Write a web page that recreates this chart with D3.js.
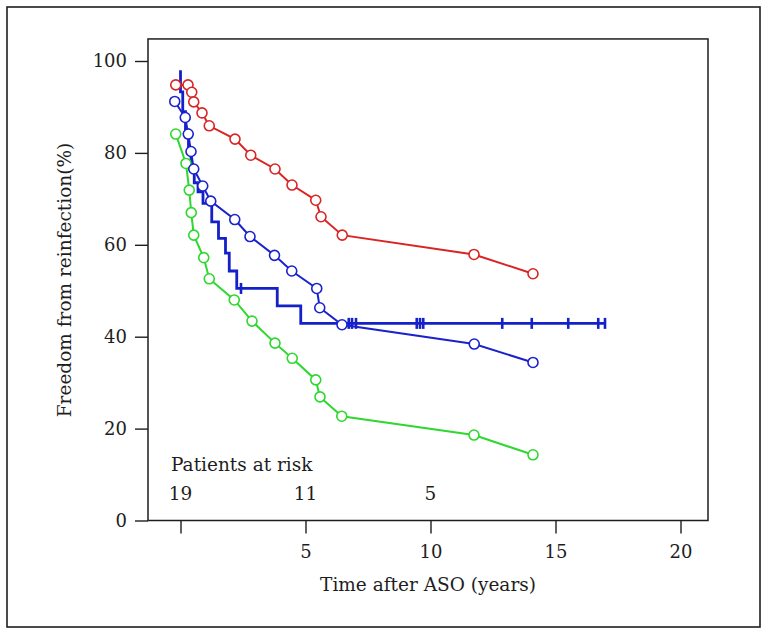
<!DOCTYPE html>
<html><head><meta charset="utf-8">
<script src="https://cdn.jsdelivr.net/npm/d3@7"></script>
<style>html,body{margin:0;padding:0;background:#fff}svg{display:block}</style>
</head><body>
<svg id="c" width="768" height="634"></svg>
<script>
// ---- data ----
const xTicks = [0, 5, 10, 15, 20];
const xTickLabels = ["", "5", "10", "15", "20"];
const yTicks = [0, 20, 40, 60, 80, 100];

const redT = [-0.19, 0.30, 0.45, 0.53, 0.86, 1.15, 2.18, 2.81, 3.78, 4.46, 5.41, 5.62, 6.47, 11.74, 14.10];
const redV = [94.8, 94.8, 93.2, 91.1, 88.7, 85.9, 83.0, 79.5, 76.5, 73.0, 69.7, 66.1, 62.1, 57.9, 53.7];

const blueT = [-0.23, 0.19, 0.31, 0.42, 0.53, 0.89, 1.21, 2.17, 2.78, 3.76, 4.45, 5.45, 5.57, 6.46, 11.75, 14.10];
const blueV = [91.2, 87.7, 84.1, 80.3, 76.5, 72.8, 69.5, 65.5, 61.8, 57.7, 54.3, 50.5, 46.3, 42.6, 38.4, 34.4];

const greenT = [-0.19, 0.22, 0.35, 0.43, 0.53, 0.93, 1.15, 2.15, 2.86, 3.78, 4.47, 5.41, 5.58, 6.45, 11.74, 14.10];
const greenV = [84.1, 77.7, 71.9, 67.0, 62.1, 57.2, 52.6, 48.0, 43.4, 38.6, 35.3, 30.6, 26.9, 22.7, 18.6, 14.3];

// Kaplan-Meier step curve: event times and survival after each drop
const kmStart = 98.0;
const kmT = [0.00, 0.09, 0.20, 0.32, 0.42, 0.55, 0.70, 0.90, 1.25, 1.52, 1.80, 1.95, 2.25, 3.87, 4.81];
const kmV = [93.3, 89.0, 85.0, 81.0, 77.0, 73.5, 71.5, 69.0, 65.0, 61.4, 58.2, 54.3, 50.5, 46.7, 42.9];
const kmEnd = 16.98;
const censorT = [2.42, 6.73, 6.86, 7.02, 9.45, 9.58, 9.71, 12.87, 14.05, 15.51, 16.71, 16.98];

const atRiskT = [0, 5, 10];
const atRiskN = ["19", "11", "5"];

// ---- drawing ----
const svg = d3.select("#c");
const font = "'DejaVu Serif', serif";
const ink = "#1e1e1e";
const x = d3.scaleLinear().domain([0, 20]).range([180.5, 680.5]);
const y = d3.scaleLinear().domain([0, 100]).range([520.5, 61]);

// outer frame
svg.append("rect").attr("x", 7).attr("y", 7).attr("width", 753).attr("height", 620)
  .attr("fill", "none").attr("stroke", ink).attr("stroke-width", 1.6);

// plot box
const bx0 = x(-1.3), bx1 = x(21.1), by0 = y(104.8), by1 = y(0);
svg.append("rect").attr("x", bx0).attr("y", by0).attr("width", bx1 - bx0).attr("height", by1 - by0)
  .attr("fill", "none").attr("stroke", ink).attr("stroke-width", 1.5);

// y axis
const yAxis = d3.axisLeft(y).tickValues(yTicks).tickSize(13).tickPadding(8);
const gy = svg.append("g").attr("transform", `translate(${bx0},0)`).call(yAxis);
gy.select(".domain").remove();
gy.selectAll(".tick line").attr("stroke", ink).attr("stroke-width", 1.4);
gy.selectAll(".tick text").attr("font-family", font).attr("font-size", 18).attr("fill", ink);

// x axis
const xAxis = d3.axisBottom(x).tickValues(xTicks).tickFormat((d, i) => xTickLabels[i]).tickSize(13).tickPadding(12);
const gx = svg.append("g").attr("transform", `translate(0,${by1})`).call(xAxis);
gx.select(".domain").remove();
gx.selectAll(".tick line").attr("stroke", ink).attr("stroke-width", 1.4);
gx.selectAll(".tick text").attr("font-family", font).attr("font-size", 18).attr("fill", ink);

// axis titles
svg.append("text").attr("x", 428).attr("y", 591).attr("text-anchor", "middle")
  .attr("font-family", font).attr("font-size", 18.5).attr("fill", ink).text("Time after ASO (years)");
svg.append("text").attr("transform", "translate(71,280) rotate(-90)").attr("text-anchor", "middle")
  .attr("font-family", font).attr("font-size", 18.5).attr("fill", ink).text("Freedom from reinfection(%)");

// KM step curve
const kmPts = [[0, kmStart]];
let prev = kmStart;
kmT.forEach((t, i) => { kmPts.push([t, prev]); kmPts.push([t, kmV[i]]); prev = kmV[i]; });
kmPts.push([kmEnd, prev]);
const line = d3.line().x(d => x(d[0])).y(d => y(d[1]));
const kmColor = "#1420c8";
svg.append("path").attr("d", line(kmPts)).attr("fill", "none").attr("stroke", kmColor)
  .attr("stroke-width", 2.8).attr("stroke-linejoin", "miter");
function kmAt(t) { let v = kmStart; kmT.forEach((tt, i) => { if (tt <= t) v = kmV[i]; }); return v; }
svg.append("g").selectAll("line").data(censorT).join("line")
  .attr("x1", d => x(d)).attr("x2", d => x(d))
  .attr("y1", d => y(kmAt(d)) - 5.5).attr("y2", d => y(kmAt(d)) + 5.5)
  .attr("stroke", kmColor).attr("stroke-width", 2.6);

// circle series
function series(ts, vs, color) {
  const pts = ts.map((t, i) => [t, vs[i]]);
  svg.append("path").attr("d", line(pts)).attr("fill", "none").attr("stroke", color).attr("stroke-width", 2);
  svg.append("g").selectAll("circle").data(pts).join("circle")
    .attr("cx", d => x(d[0])).attr("cy", d => y(d[1])).attr("r", 5)
    .attr("fill", "#fff").attr("stroke", color).attr("stroke-width", 1.6);
}
series(greenT, greenV, "#2ed82e");
series(blueT, blueV, "#1a22cc");
series(redT, redV, "#d92424");

// patients at risk
svg.append("text").attr("x", 171).attr("y", 471).attr("font-family", font).attr("font-size", 18.5)
  .attr("fill", ink).text("Patients at risk");
svg.append("g").selectAll("text").data(atRiskT).join("text")
  .attr("x", d => x(d)).attr("y", 500).attr("text-anchor", "middle")
  .attr("font-family", font).attr("font-size", 18.5).attr("fill", ink)
  .text((d, i) => atRiskN[i]);
</script>
</body></html>
